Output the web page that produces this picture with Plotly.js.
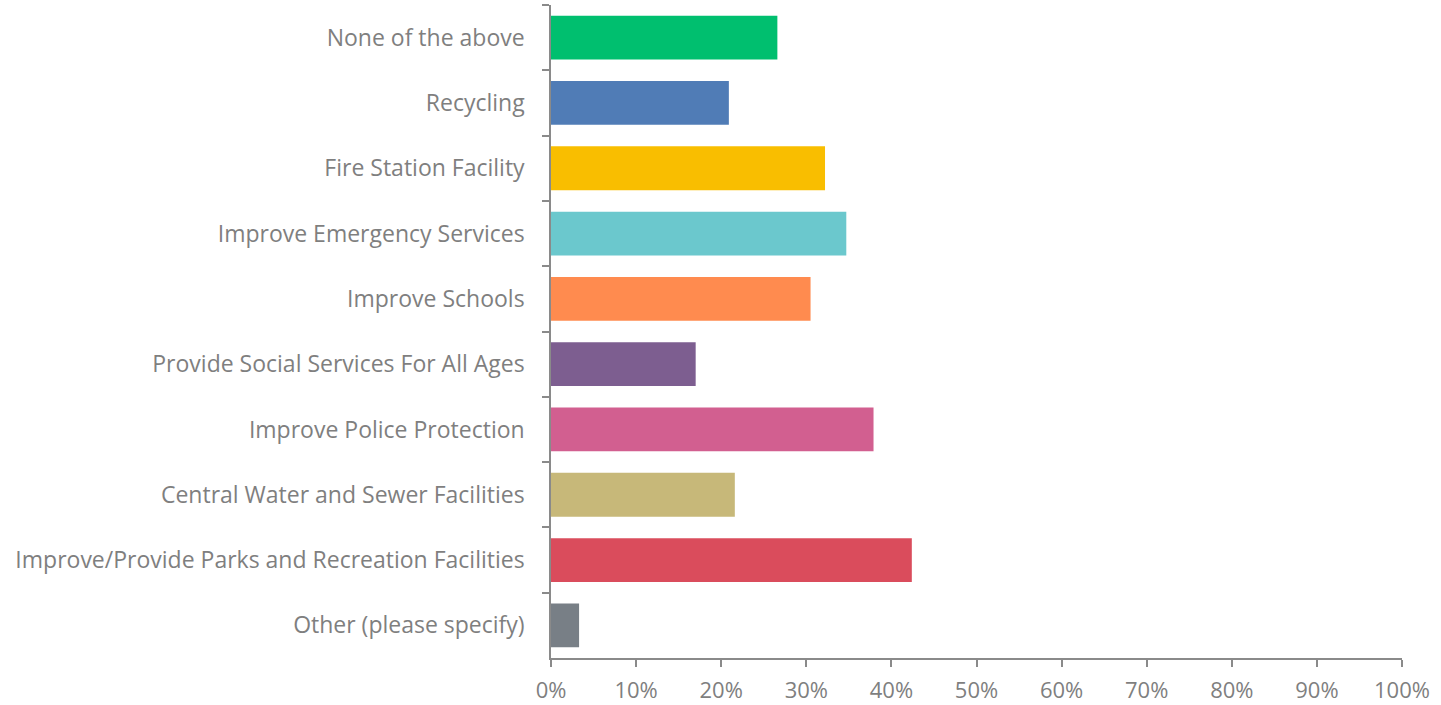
<!DOCTYPE html>
<html><head><meta charset="utf-8">
<script src="https://cdn.plot.ly/plotly-3.0.1.min.js"></script>
<style>html,body{margin:0;padding:0;background:#fff}</style>
</head><body>
<div id="chart" style="width:1441px;height:705px"></div>
<script>
const categories = ["None of the above","Recycling","Fire Station Facility","Improve Emergency Services","Improve Schools","Provide Social Services For All Ages","Improve Police Protection","Central Water and Sewer Facilities","Improve/Provide Parks and Recreation Facilities","Other (please specify)"];
const values = [0.266, 0.209, 0.322, 0.347, 0.305, 0.170, 0.379, 0.216, 0.424, 0.033];
const colors = ["#00BF6F","#507CB6","#F9BE00","#6BC8CD","#FF8B4F","#7D5E90","#D25F90","#C7B879","#DA4C5C","#787F86"];
const xTicks = [0,0.1,0.2,0.3,0.4,0.5,0.6,0.7,0.8,0.9,1.0];

const trace = {type:'bar', orientation:'h', y:categories, x:values, marker:{color:colors}, hoverinfo:'x+y'};
const layout = {
  width:1441, height:705,
  margin:{l:551, r:39, t:5, b:47},
  paper_bgcolor:'#fff', plot_bgcolor:'#fff',
  bargap:0.33,
  showlegend:false,
  font:{family:'"Open Sans", sans-serif', color:'#7f7f7f', size:19},
  xaxis:{range:[0,1], tickvals:xTicks, tickformat:'.0%', showgrid:false, zeroline:false,
    showline:true, linecolor:'#8a8a8a', linewidth:1.5, ticks:'outside', ticklen:7, tickcolor:'#8a8a8a', tickwidth:1.5,
    ticklabelstandoff:5, tickfont:{size:22, color:'#7f7f7f'}},
  yaxis:{autorange:'reversed', showgrid:false, zeroline:false, showline:true, linecolor:'#8a8a8a', linewidth:1.5,
    ticks:'outside', tickson:'boundaries', ticklen:7, tickcolor:'#8a8a8a', tickwidth:1.5,
    ticklabelstandoff:20, tickfont:{size:23, color:'#7f7f7f'}}
};
Plotly.newPlot('chart',[trace],layout,{displayModeBar:false});
</script>
</body></html>
